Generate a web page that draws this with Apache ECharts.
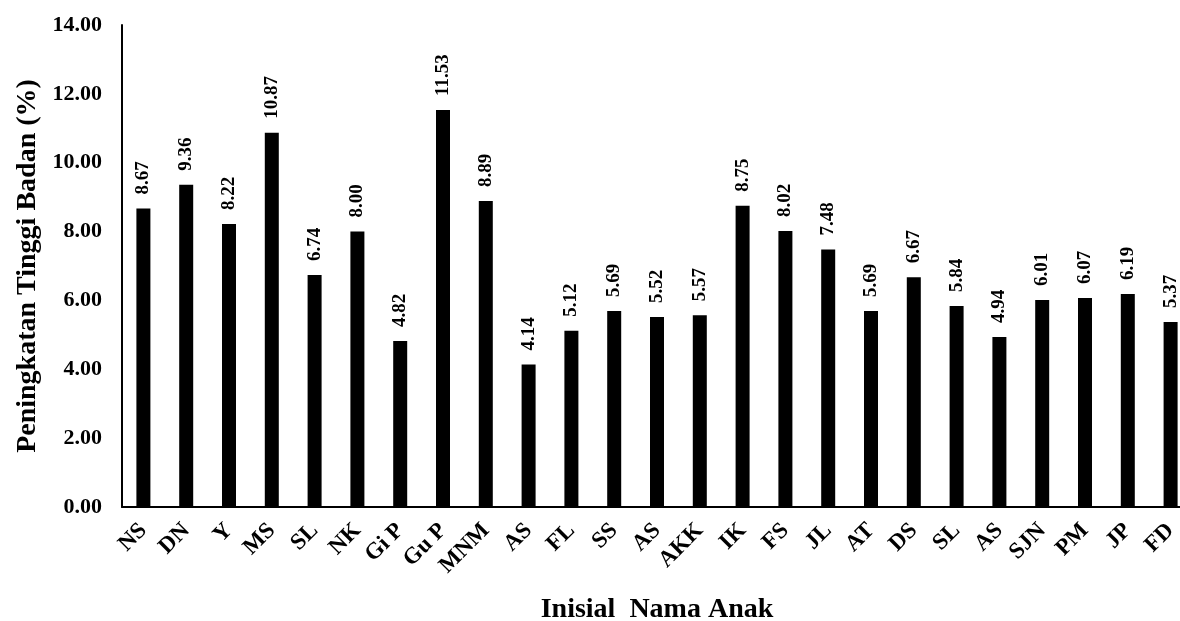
<!DOCTYPE html>
<html>
<head>
<meta charset="utf-8">
<script src="https://cdn.jsdelivr.net/npm/echarts@6/dist/echarts.min.js"></script>
<style>
html, body { margin: 0; padding: 0; background: #fff; }
#main { width: 1180px; height: 621px; }
</style>
</head>
<body>
<div id="main"></div>
<script>
// data
var categories = ['NS', 'DN', 'Y', 'MS', 'SL', 'NK', 'Gi P', 'Gu P', 'MNM', 'AS', 'FL', 'SS', 'AS',
    'AKK', 'IK', 'FS', 'JL', 'AT', 'DS', 'SL', 'AS', 'SJN', 'PM', 'JP', 'FD'];
var values = [8.67, 9.36, 8.22, 10.87, 6.74, 8.00, 4.82, 11.53, 8.89, 4.14, 5.12, 5.69, 5.52,
    5.57, 8.75, 8.02, 7.48, 5.69, 6.67, 5.84, 4.94, 6.01, 6.07, 6.19, 5.37];
var yTicks = [0, 2, 4, 6, 8, 10, 12, 14];

var font = '"Liberation Serif", "Times New Roman", serif';
var myChart = echarts.init(document.getElementById('main'));

var option = {
    animation: false,
    grid: { left: 122, right: -12, top: 25, bottom: 114, containLabel: false, outerBoundsMode: 'none' },
    xAxis: {
        type: 'category',
        data: categories,
        name: 'Inisial  Nama Anak',
        nameLocation: 'middle',
        nameGap: 89,
        nameTextStyle: { fontFamily: font, fontWeight: 'bold', fontSize: 28, color: '#000' },
        axisLine: { lineStyle: { color: '#000', width: 2 } },
        axisTick: { show: false },
        axisLabel: {
            interval: 0,
            rotate: 45,
            margin: 20,
            fontFamily: font,
            fontWeight: 'bold',
            fontSize: 23,
            color: '#000'
        }
    },
    yAxis: {
        type: 'value',
        min: yTicks[0],
        max: yTicks[yTicks.length - 1],
        interval: 2,
        name: 'Peningkatan Tinggi Badan (%)',
        nameLocation: 'middle',
        nameGap: 80,
        nameTextStyle: { fontFamily: font, fontWeight: 'bold', fontSize: 28, color: '#000' },
        axisLine: { show: true, lineStyle: { color: '#000', width: 2 } },
        axisTick: { show: false },
        splitLine: { show: false },
        axisLabel: {
            margin: 20,
            fontFamily: font,
            fontWeight: 'bold',
            fontSize: 22,
            color: '#000',
            formatter: function (v) { return v.toFixed(2); }
        }
    },
    series: [{
        type: 'bar',
        data: values,
        barWidth: 14,
        itemStyle: { color: '#000' },
        label: {
            show: true,
            position: 'top',
            rotate: 90,
            align: 'left',
            verticalAlign: 'middle',
            distance: 14,
            fontFamily: font,
            fontWeight: 'bold',
            fontSize: 19,
            color: '#000',
            formatter: function (p) { return p.value.toFixed(2); }
        }
    }]
};

myChart.setOption(option);
</script>
</body>
</html>
